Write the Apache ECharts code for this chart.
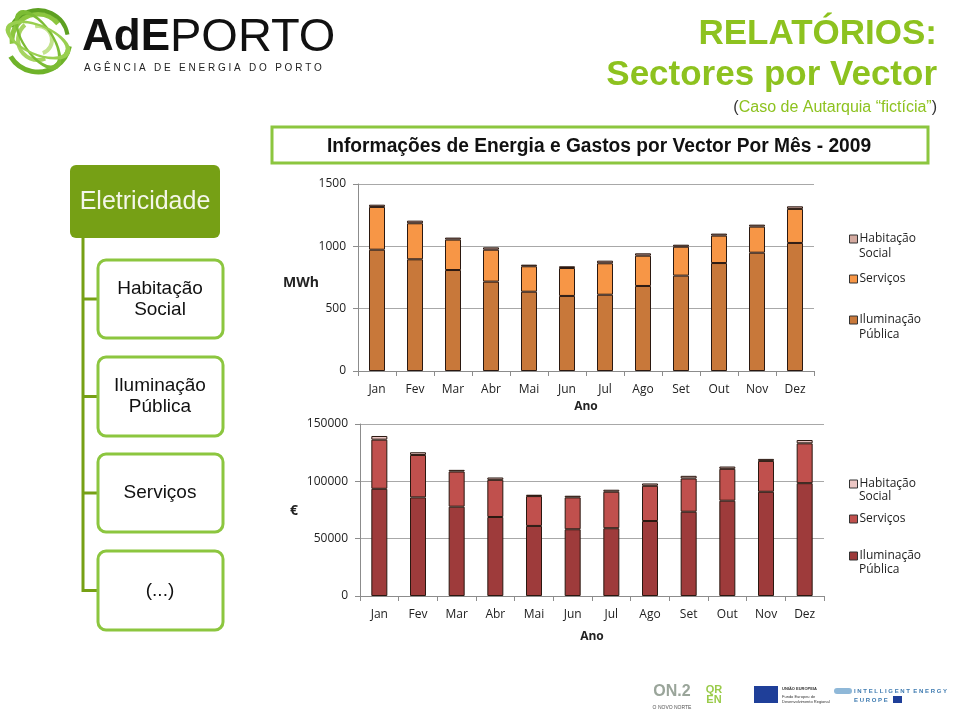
<!DOCTYPE html>
<html><head><meta charset="utf-8">
<script src="https://cdn.jsdelivr.net/npm/echarts@6/dist/echarts.min.js"></script>
<style>html,body{margin:0;padding:0;background:#fff}#c{width:960px;height:717px}</style>
</head><body><div id="c"></div>
<script>
// ---- data ----
const months = ['Jan','Fev','Mar','Abr','Mai','Jun','Jul','Ago','Set','Out','Nov','Dez'];
const mwhIluminacao = [973, 896, 810, 717, 636, 602, 612, 682, 765, 866, 949, 1027];
const mwhServicos   = [343, 289, 244, 256, 204, 224, 252, 243, 232, 220, 209, 273];
const mwhHabitacao  = [18, 21, 16, 19, 13, 14, 21, 19, 16, 16, 16, 21];
const eurIluminacao = [93500, 86000, 77900, 68900, 61100, 58200, 59100, 65400, 73500, 83100, 90900, 98400];
const eurServicos   = [42850, 37000, 30660, 32400, 26040, 27800, 31840, 30700, 29000, 27800, 26900, 34740];
const eurHabitacao  = [3190, 2350, 1440, 2050, 1160, 1430, 1740, 2040, 2300, 2000, 1760, 2890];
const mwhTicks = [0, 500, 1000, 1500];
const eurTicks = [0, 50000, 100000, 150000];

const GREEN = '#8cc63f';
const DARKGREEN = '#76a015';
const TXT = '#222';
const FONT = '"Open Sans", "DejaVu Sans", sans-serif';
const SANS = '"Liberation Sans", Arial, sans-serif';

const chart = echarts.init(document.getElementById('c'), null, {renderer: 'canvas'});

function xAxisDef(gi) {
  return {
    type: 'category', gridIndex: gi, data: months,
    axisLine: {lineStyle: {color: '#8c8c8c', width: 1}},
    axisTick: {show: true, length: 5, lineStyle: {color: '#8c8c8c'}},
    axisLabel: {color: TXT, fontFamily: FONT, fontSize: 12, margin: 13},
    name: 'Ano', nameLocation: 'middle', nameGap: gi === 0 ? 30 : 35,
    nameTextStyle: {color: TXT, fontFamily: FONT, fontSize: 12, fontWeight: 'bold'}
  };
}
function yAxisDef(gi, ticks) {
  return {
    type: 'value', gridIndex: gi, min: ticks[0], max: ticks[ticks.length - 1],
    interval: ticks[1] - ticks[0],
    axisLine: {show: true, lineStyle: {color: '#8c8c8c', width: 1}},
    axisTick: {show: true, length: 5, lineStyle: {color: '#8c8c8c'}},
    axisLabel: {color: TXT, fontFamily: FONT, fontSize: 12, margin: 12, formatter: v => String(v)},
    splitLine: {show: true, lineStyle: {color: '#a8a8a8', width: 1}}
  };
}
function bar(name, data, gi, color) {
  return {
    name, type: 'bar', xAxisIndex: gi, yAxisIndex: gi, stack: 's' + gi, data,
    barWidth: 16, itemStyle: {color, borderColor: '#2a1810', borderWidth: 1},
    emphasis: {disabled: true}, animation: false
  };
}
function legendDef(name, left, top, first) {
  return {
    data: [name], left, top, orient: 'vertical', itemWidth: 8, itemHeight: 8,
    itemGap: 0, padding: 0, icon: 'rect', selectedMode: false,
    itemStyle: {borderColor: '#333', borderWidth: 1},
    formatter: () => first,
    textStyle: {color: TXT, fontFamily: FONT, fontSize: 12, padding: [0, 0, 0, -3]}
  };
}

// left organigram boxes
const boxes = [
  {y: 260, h: 78, lines: ['Habitação', 'Social']},
  {y: 357, h: 79, lines: ['Iluminação', 'Pública']},
  {y: 454, h: 78, lines: ['Serviços']},
  {y: 551, h: 79, lines: ['(...)']}
];
const graphic = [];
graphic.push({type: 'line', shape: {x1: 83, y1: 236, x2: 83, y2: 592}, style: {stroke: DARKGREEN, lineWidth: 3}});
boxes.forEach(b => {
  const cy = b.y + b.h / 2;
  graphic.push({type: 'line', shape: {x1: 82, y1: cy, x2: 98, y2: cy}, style: {stroke: DARKGREEN, lineWidth: 3}});
  graphic.push({type: 'rect', shape: {x: 98, y: b.y, width: 125, height: b.h, r: 8}, style: {fill: '#fff', stroke: GREEN, lineWidth: 3}});
  graphic.push({type: 'text', x: 160, y: cy, style: {text: b.lines.join('\n'), fill: '#111', font: '19px ' + SANS, align: 'center', verticalAlign: 'middle', lineHeight: 21}});
});
graphic.push({type: 'rect', shape: {x: 70, y: 165, width: 150, height: 73, r: 6}, style: {fill: DARKGREEN}});
graphic.push({type: 'text', x: 145, y: 202, style: {text: 'Eletricidade', fill: '#f4f6e8', font: '25px ' + SANS, align: 'center', verticalAlign: 'middle'}});

// chart title box
graphic.push({type: 'rect', shape: {x: 272, y: 127, width: 656, height: 36}, style: {fill: '#fff', stroke: GREEN, lineWidth: 3}});
graphic.push({type: 'text', x: 599, y: 146, scaleX: 0.96, style: {text: 'Informações de Energia e Gastos por Vector Por Mês - 2009', fill: '#111', font: 'bold 20px ' + SANS, align: 'center', verticalAlign: 'middle'}});

// axis unit labels
graphic.push({type: 'text', x: 301, y: 283, style: {text: 'MWh', fill: TXT, font: 'bold 14px ' + FONT, align: 'center', verticalAlign: 'middle'}});
graphic.push({type: 'text', x: 294, y: 511, style: {text: '€', fill: TXT, font: 'bold 14px ' + FONT, align: 'center', verticalAlign: 'middle'}});

// legend second lines
graphic.push({type: 'text', x: 859, y: 254, style: {text: 'Social', fill: TXT, font: '12px ' + FONT, verticalAlign: 'middle'}});
graphic.push({type: 'text', x: 859, y: 335, style: {text: 'Pública', fill: TXT, font: '12px ' + FONT, verticalAlign: 'middle'}});
graphic.push({type: 'text', x: 859, y: 497, style: {text: 'Social', fill: TXT, font: '12px ' + FONT, verticalAlign: 'middle'}});
graphic.push({type: 'text', x: 859, y: 570, style: {text: 'Pública', fill: TXT, font: '12px ' + FONT, verticalAlign: 'middle'}});

// right header
graphic.push({type: 'text', x: 937, y: 34, style: {text: 'RELATÓRIOS:', fill: '#8dc21f', font: 'bold 35px ' + SANS, align: 'right', verticalAlign: 'middle'}});
graphic.push({type: 'text', x: 937, y: 75, style: {text: 'Sectores por Vector', fill: '#8dc21f', font: 'bold 35px ' + SANS, align: 'right', verticalAlign: 'middle'}});
graphic.push({type: 'text', x: 937, y: 108, style: {
  text: '{p|(}{g|Caso de Autarquia “fictícia”}{p|)}', align: 'right', verticalAlign: 'middle',
  rich: {p: {fill: '#333', font: '16px ' + SANS}, g: {fill: '#8dc21f', font: '16px ' + SANS}}
}});

// logo globe
const arcs = [
  {r: 32, s: 0.2, e: 2.6, c: '#6fb32a', w: 5},
  {r: 26, s: 3.0, e: 5.6, c: '#8cc63f', w: 5},
  {r: 20, s: 1.2, e: 4.0, c: '#a6d461', w: 4},
  {r: 30, s: 3.6, e: 6.1, c: '#5da021', w: 4},
  {r: 14, s: 4.5, e: 7.5, c: '#c3e38e', w: 4}
];
arcs.forEach(a => {
  graphic.push({type: 'arc', shape: {cx: 38, cy: 40, r: a.r, startAngle: a.s, endAngle: a.e}, style: {stroke: a.c, lineWidth: a.w, fill: 'none'}});
});
graphic.push({type: 'arc', x: 38, y: 40, scaleX: 0.45, shape: {cx: 0, cy: 0, r: 32, startAngle: 0, endAngle: 6.28}, style: {stroke: '#7cbc34', lineWidth: 5, fill: 'none'}, rotation: 0.6});
graphic.push({type: 'arc', x: 38, y: 40, scaleY: 0.45, shape: {cx: 0, cy: 0, r: 32, startAngle: 0, endAngle: 6.28}, style: {stroke: '#99cf4f', lineWidth: 5, fill: 'none'}, rotation: -0.4});
graphic.push({type: 'text', x: 82, y: 38, style: {text: '{b|AdE}{t|PORTO}', verticalAlign: 'middle', rich: {b: {fill: '#111', font: 'bold 44px ' + SANS}, t: {fill: '#111', font: '47px ' + SANS}}}});
graphic.push({type: 'text', x: 84, y: 68, style: {text: 'A G Ê N C I A   D E   E N E R G I A   D O   P O R T O', fill: '#222', font: '10px ' + SANS, verticalAlign: 'middle'}});

// footer logos
graphic.push({type: 'text', x: 672, y: 692, style: {text: 'ON.2', fill: '#9aa59a', font: 'bold 16px ' + SANS, align: 'center', verticalAlign: 'middle'}});
graphic.push({type: 'text', x: 672, y: 708, style: {text: 'O NOVO NORTE', fill: '#555', font: '5px ' + SANS, align: 'center', verticalAlign: 'middle'}});
graphic.push({type: 'text', x: 714, y: 695, style: {text: 'QR\nEN', fill: '#9acb4a', font: 'bold 11px ' + SANS, align: 'center', verticalAlign: 'middle', lineHeight: 10}});
graphic.push({type: 'rect', shape: {x: 754, y: 686, width: 24, height: 17}, style: {fill: '#1f3f99'}});
graphic.push({type: 'text', x: 782, y: 689, style: {text: 'UNIÃO EUROPEIA', fill: '#333', font: 'bold 4px ' + SANS, verticalAlign: 'middle'}});
graphic.push({type: 'text', x: 782, y: 699, style: {text: 'Fundo Europeu de\nDesenvolvimento Regional', fill: '#333', font: '4px ' + SANS, verticalAlign: 'middle', lineHeight: 5}});
graphic.push({type: 'rect', shape: {x: 834, y: 688, width: 18, height: 6, r: 3}, style: {fill: '#8fb8d8'}});
graphic.push({type: 'text', x: 854, y: 691, style: {text: 'I N T E L L I G E N T  E N E R G Y', fill: '#3d7ab0', font: 'bold 6px ' + SANS, verticalAlign: 'middle'}});
graphic.push({type: 'text', x: 854, y: 700, style: {text: 'E U R O P E', fill: '#3d7ab0', font: 'bold 6px ' + SANS, verticalAlign: 'middle'}});
graphic.push({type: 'rect', shape: {x: 893, y: 696, width: 9, height: 7}, style: {fill: '#1f3f99'}});

const option = {
  backgroundColor: '#fff',
  animation: false,
  grid: [
    {left: 358, right: 146, top: 184, height: 187},
    {left: 360, right: 136, top: 424, height: 172}
  ],
  xAxis: [xAxisDef(0), xAxisDef(1)],
  yAxis: [yAxisDef(0, mwhTicks), yAxisDef(1, eurTicks)],
  legend: [
    legendDef('Habitação Social (MWh)', 849, 233, 'Habitação'),
    legendDef('Serviços (MWh)', 849, 273, 'Serviços'),
    legendDef('Iluminação Pública (MWh)', 849, 314, 'Iluminação'),
    legendDef('Habitação Social (€)', 849, 478, 'Habitação'),
    legendDef('Serviços (€)', 849, 513, 'Serviços'),
    legendDef('Iluminação Pública (€)', 849, 550, 'Iluminação')
  ],
  series: [
    bar('Iluminação Pública (MWh)', mwhIluminacao, 0, '#c8783a'),
    bar('Serviços (MWh)', mwhServicos, 0, '#f79646'),
    bar('Habitação Social (MWh)', mwhHabitacao, 0, '#d4aaa0'),
    bar('Iluminação Pública (€)', eurIluminacao, 1, '#9e3b3b'),
    bar('Serviços (€)', eurServicos, 1, '#c0504d'),
    bar('Habitação Social (€)', eurHabitacao, 1, '#ecc6c4')
  ],
  graphic: graphic
};
chart.setOption(option);
</script>
</body></html>
